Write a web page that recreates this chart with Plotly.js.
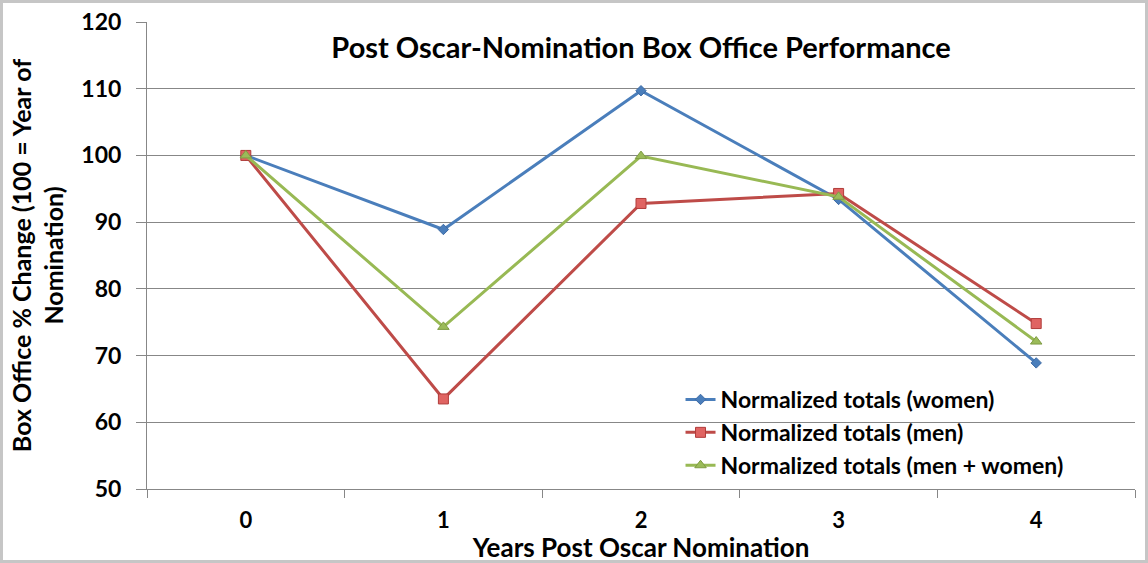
<!DOCTYPE html>
<html>
<head>
<meta charset="utf-8">
<script src="https://cdn.plot.ly/plotly-3.0.1.min.js"></script>
<style>
html,body{margin:0;padding:0;background:#fff;}
#wrap{position:relative;width:1148px;height:563px;}
#chart{width:1148px;height:563px;}
#frame{position:absolute;left:0;top:0;width:1148px;height:563px;box-sizing:border-box;border:3px solid #c6c6c6;pointer-events:none;}
</style>
</head>
<body>
<div id="wrap"><div id="chart"></div><div id="frame"></div></div>
<script>
const years = ["0", "1", "2", "3", "4"];
const women = [100, 88.9, 109.7, 93.4, 68.9];
const men = [100, 63.5, 92.8, 94.3, 74.8];
const menWomen = [100, 74.3, 99.9, 93.8, 72.1];
const yTicks = [50, 60, 70, 80, 90, 100, 110, 120];

const FONT = "Lato, 'Open Sans', sans-serif";

const traces = [
  {x: years, y: women, name: "<b>Normalized totals (women)</b>", type: "scatter", mode: "lines+markers",
   legendgroup: "a",
   line: {color: "#4a7ebb", width: 3}, marker: {symbol: "diamond", size: 8, color: "#4a7ebb", line: {color: "#3d6aa5", width: 1}}},
  {x: years, y: men, name: "<b>Normalized totals (men)</b>", type: "scatter", mode: "lines+markers",
   legendgroup: "b",
   line: {color: "#be4b48", width: 3}, marker: {symbol: "square", size: 10, color: "#e06462", line: {color: "#b03c3a", width: 1}}},
  {x: years, y: menWomen, name: "<b>Normalized totals (men + women)</b>", type: "scatter", mode: "lines+markers",
   legendgroup: "c",
   line: {color: "#98b954", width: 3}, marker: {symbol: "triangle-up", size: 10, color: "#9bbb59", line: {color: "#7f9c43", width: 1}}}
];

const layout = {
  width: 1148, height: 563,
  margin: {l: 147, r: 13, t: 22, b: 74},
  paper_bgcolor: "#fff", plot_bgcolor: "#fff",
  font: {family: FONT, color: "#000", size: 20},
  showlegend: true,
  title: {text: "<b>Post Oscar-Nomination Box Office Performance</b>", font: {size: 29, family: FONT, color: "#000"},
          x: 0.5584, xanchor: "center", y: 0.9147, yanchor: "middle"},
  xaxis: {
    type: "category", range: [-0.5, 4.5], tickson: "boundaries",
    ticks: "outside", ticklen: 8, tickcolor: "#878787",
    showline: true, linecolor: "#878787", linewidth: 1,
    showgrid: false, zeroline: false,
    tickfont: {size: 22, family: FONT, color: "#000"},
    ticktext: years.map(v => "<b>" + v + "</b>"), tickvals: years,
    ticklabelstandoff: 12,
    title: {text: "<b>Years Post Oscar Nomination</b>", font: {size: 26, family: FONT, color: "#000"}, standoff: 0}
  },
  yaxis: {
    range: [50, 120], tickvals: yTicks, ticktext: yTicks.map(v => "<b>" + v + "</b>"),
    ticks: "outside", ticklen: 10, tickcolor: "#878787",
    showline: true, linecolor: "#878787", linewidth: 1,
    showgrid: true, gridcolor: "#878787", gridwidth: 1, zeroline: false,
    tickfont: {size: 23, family: FONT, color: "#000"},
    ticklabelstandoff: 10,
    title: {text: "<b>Box Office % Change (100 = Year of<br>Nomination)</b>", font: {size: 25, family: FONT, color: "#000"}, standoff: 10}
  },
  legend: {
    x: 0.540, y: 0.2377, xanchor: "left", yanchor: "top",
    bgcolor: "rgba(255,255,255,0)", borderwidth: 0,
    font: {size: 23, family: FONT, color: "#000"},
    tracegroupgap: 0, itemwidth: 30
  }
};

Plotly.newPlot("chart", traces, layout, {displayModeBar: false, staticPlot: true});
</script>
</body>
</html>
